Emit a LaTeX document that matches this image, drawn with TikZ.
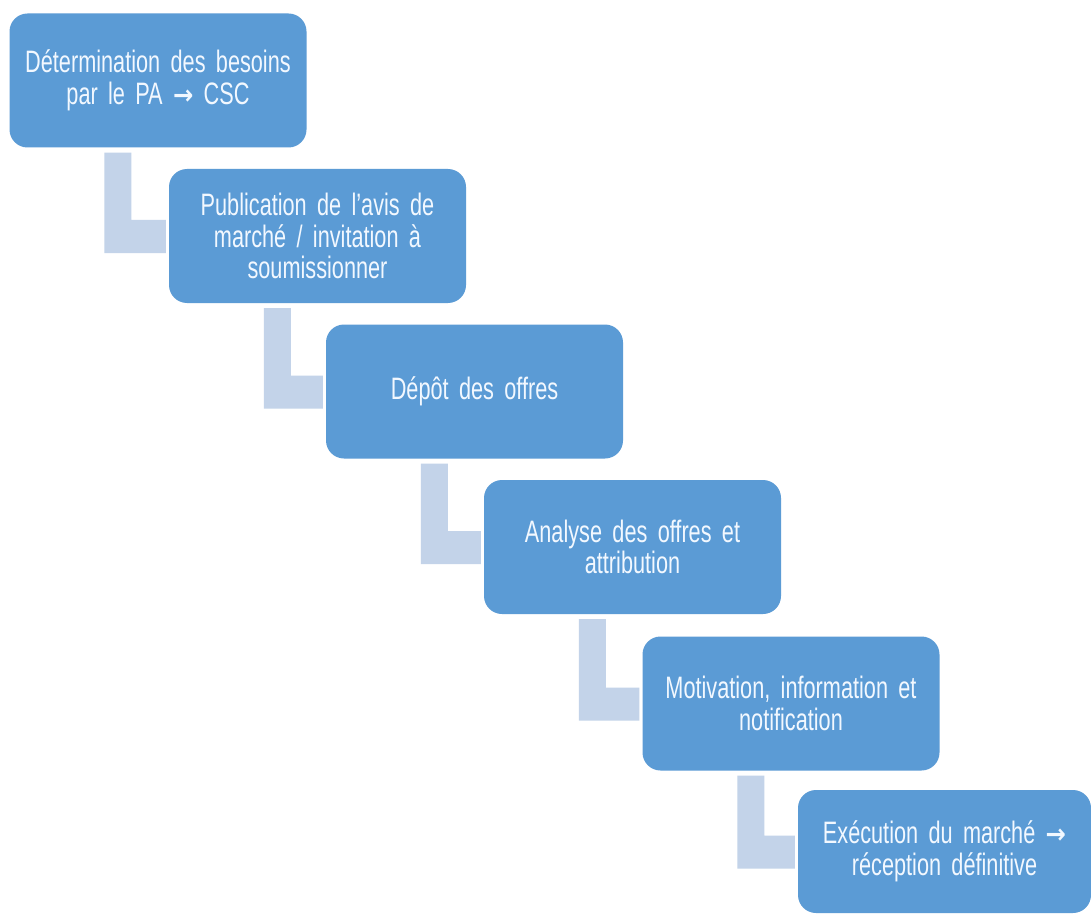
\documentclass[tikz,border=0pt]{standalone}
\usepackage{fontspec}
\setmainfont{Liberation Sans}[FakeStretch=0.7]
\newfontfamily\arrowfont{DejaVu Sans}[FakeStretch=0.9]
\usepackage{xcolor}
\usetikzlibrary{calc}

\definecolor{stepblue}{HTML}{5B9BD5}
\definecolor{linkblue}{HTML}{C3D3E9}
\definecolor{steptext}{HTML}{F2F8FF}

\newcommand{\toarrow}{{\arrowfont\fontsize{27}{27}\selectfont\bfseries →}}
\newcommand{\stepfont}{\fontsize{31}{31.5}\selectfont\fontdimen2\font=6pt\relax}

\tikzset{
  stepbox/.style={fill=stepblue, rounded corners=18pt, text=steptext,
    minimum width=297pt, minimum height=134pt, text width=285pt, align=center,
    inner sep=0pt, font=\stepfont},
  link/.style={fill=linkblue}
}

\begin{document}
\begin{tikzpicture}[x=1pt, y=-1pt]
\useasboundingbox[fill=white] (0,0) rectangle (1091,917);

\node[stepbox] (b1) at (158,80.5) {Détermination des besoins\\par le PA \toarrow\ CSC};
\node[stepbox] (b2) at (317.5,236) {Publication de l’avis de\\marché / invitation à\\soumissionner};
\node[stepbox] (b3) at (474.5,391.5) {Dépôt des offres};
\node[stepbox] (b4) at (632.5,547) {Analyse des offres et\\attribution};
\node[stepbox] (b5) at (791,703.5) {Motivation, information et\\notification};
\node[stepbox, minimum width=293pt, minimum height=123pt] (b6) at (944.5,851.5) {Exécution du marché \toarrow\\réception définitive};

% bent links between the steps
\fill[link] ($(b1.south west)+(95,5)$) -- ++(27,0) |- ($(b2.west)+(-3,-16)$) -- ++(0,33) -| ($(b1.south west)+(95,5)$) -- cycle;
\fill[link] ($(b2.south west)+(95,5)$) -- ++(27,0) |- ($(b3.west)+(-3,-16)$) -- ++(0,33) -| ($(b2.south west)+(95,5)$) -- cycle;
\fill[link] ($(b3.south west)+(95,5)$) -- ++(27,0) |- ($(b4.west)+(-3,-16)$) -- ++(0,33) -| ($(b3.south west)+(95,5)$) -- cycle;
\fill[link] ($(b4.south west)+(95,5)$) -- ++(27,0) |- ($(b5.west)+(-3,-16)$) -- ++(0,33) -| ($(b4.south west)+(95,5)$) -- cycle;
\fill[link] ($(b5.south west)+(95,5)$) -- ++(27,0) |- ($(b6.west)+(-3,-16)$) -- ++(0,33) -| ($(b5.south west)+(95,5)$) -- cycle;
\end{tikzpicture}
\end{document}
